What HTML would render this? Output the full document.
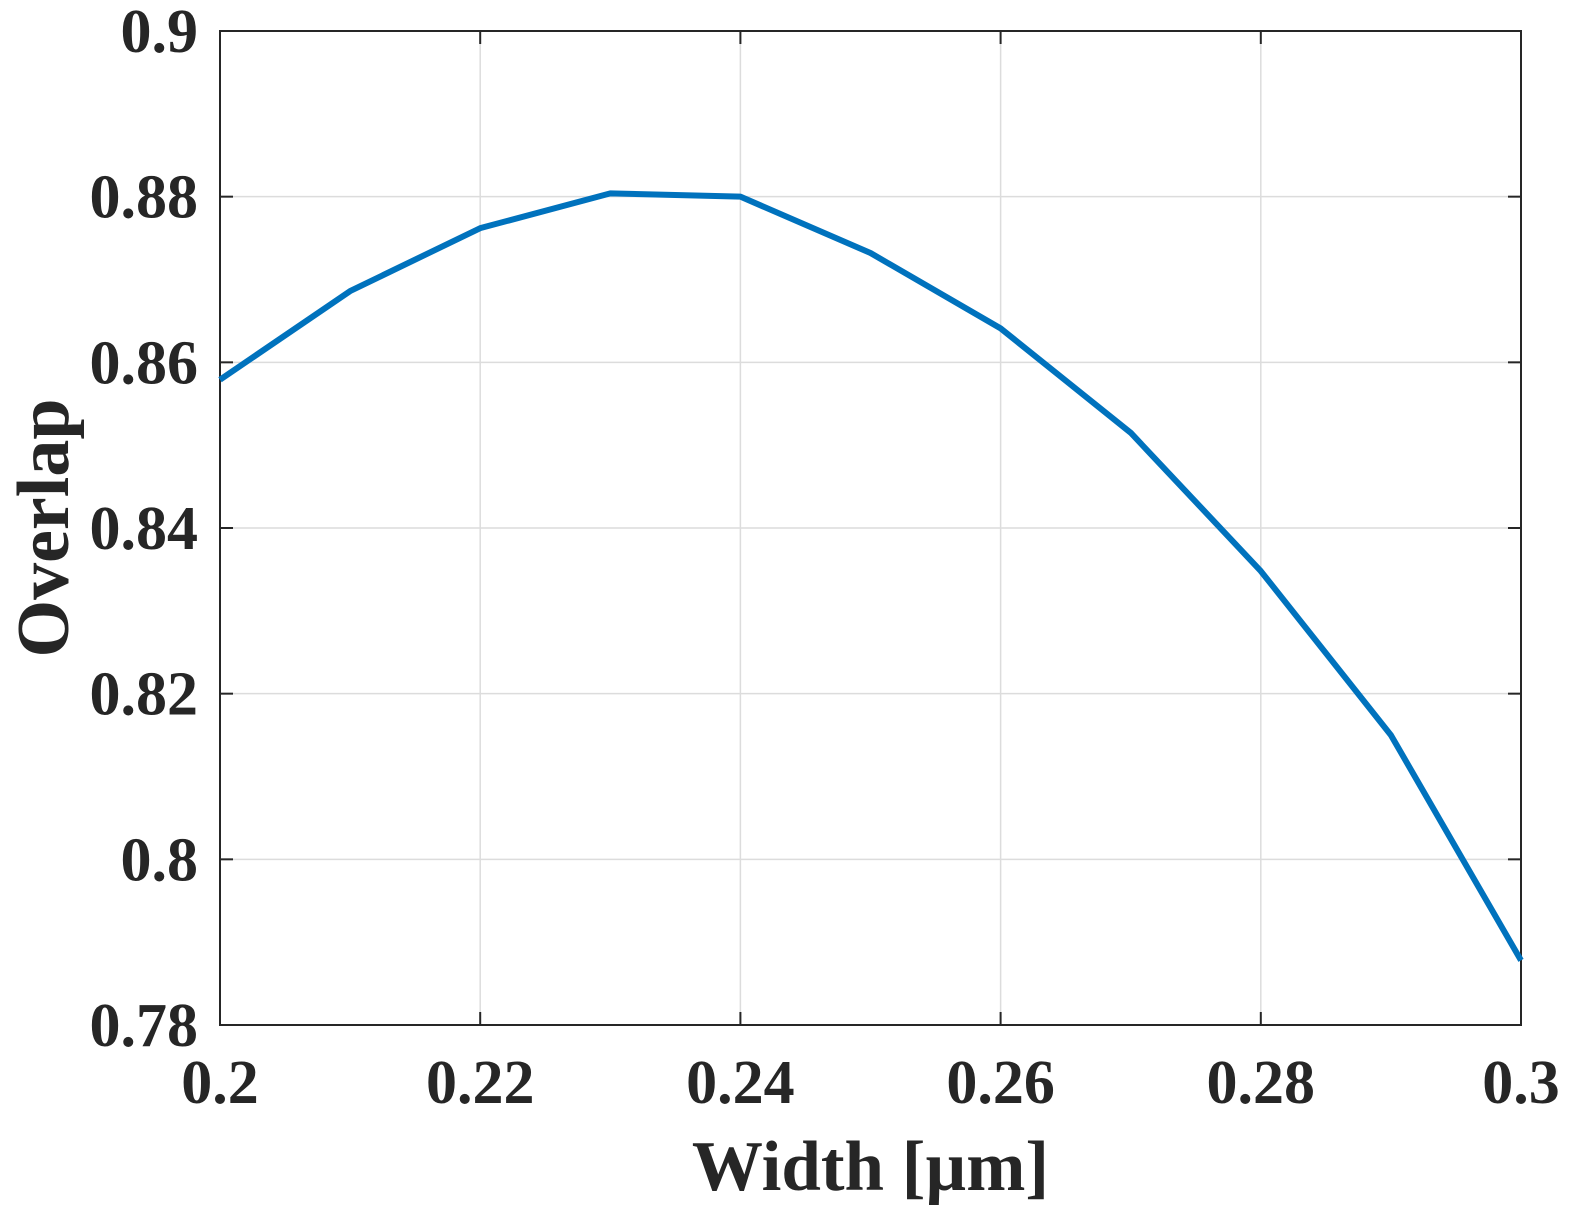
<!DOCTYPE html>
<html><head><meta charset="utf-8"><style>
html,body{margin:0;padding:0;background:#fff;}
svg{display:block;}
text{font-family:"Liberation Serif",serif;font-weight:bold;fill:#262626;}
</style></head><body>
<svg id="chart" width="1582" height="1225" viewBox="0 0 1582 1225" xmlns="http://www.w3.org/2000/svg"></svg>
<script>
const xValues = [0.20,0.21,0.22,0.23,0.24,0.25,0.26,0.27,0.28,0.29,0.30];
const overlapValues = [0.8579,0.8686,0.8762,0.8804,0.8800,0.8732,0.8641,0.8515,0.8348,0.8150,0.7878];
const xTicks = [0.2,0.22,0.24,0.26,0.28,0.3];
const xTickLabels = ["0.2","0.22","0.24","0.26","0.28","0.3"];
const yTicks = [0.78,0.8,0.82,0.84,0.86,0.88,0.9];
const yTickLabels = ["0.78","0.8","0.82","0.84","0.86","0.88","0.9"];

const L=220,R=1521,T=31,B=1025;
const xMin=0.2,xMax=0.3,yMin=0.78,yMax=0.9;
const sx=v=>L+(v-xMin)/(xMax-xMin)*(R-L);
const sy=v=>B-(v-yMin)/(yMax-yMin)*(B-T);
const svg=document.getElementById('chart');
const NS='http://www.w3.org/2000/svg';
function mk(tag,attrs,parent){const e=document.createElementNS(NS,tag);for(const k in attrs)e.setAttribute(k,attrs[k]);(parent||svg).appendChild(e);return e;}

const grid=mk('g',{});


xTicks.forEach((t,i)=>{
  if(i>0&&i<xTicks.length-1){const l=mk('line',{x1:sx(t),x2:sx(t),y1:T,y2:B,stroke:'#dcdcdc','stroke-width':1.5},grid);
  
  }
});
yTicks.forEach((t,i)=>{
  if(i>0&&i<yTicks.length-1){const l=mk('line',{x1:L,x2:R,y1:sy(t),y2:sy(t),stroke:'#dcdcdc','stroke-width':1.5},grid);
  
  }
});

const frame=mk('rect',{x:L,y:T,width:R-L,height:B-T,fill:'none',stroke:'#262626','stroke-width':2});



xTicks.forEach((t,i)=>{
  const x=sx(t);
  mk('line',{x1:x,x2:x,y1:B,y2:B-13,stroke:'#262626','stroke-width':2});
  mk('line',{x1:x,x2:x,y1:T,y2:T+13,stroke:'#262626','stroke-width':2});
  const tx=mk('text',{x:x,y:B+78,'font-size':62,'text-anchor':'middle'});
  tx.textContent=xTickLabels[i];
  
  
});
yTicks.forEach((t,i)=>{
  const y=sy(t);
  mk('line',{x1:L,x2:L+13,y1:y,y2:y,stroke:'#262626','stroke-width':2});
  mk('line',{x1:R,x2:R-13,y1:y,y2:y,stroke:'#262626','stroke-width':2});
  const tx=mk('text',{x:L-22,y:y+21,'font-size':62,'text-anchor':'end'});
  tx.textContent=yTickLabels[i];
  
  
});

const pts=xValues.map((v,i)=>sx(v)+','+sy(overlapValues[i])).join(' ');
const line=mk('polyline',{points:pts,fill:'none',stroke:'#0072BD','stroke-width':6,'stroke-linejoin':'round'});



const xt=mk('text',{x:(L+R)/2,y:1190,'font-size':71,'text-anchor':'middle'});
xt.textContent='Width [\u00b5m]';


const yt=mk('text',{x:0,y:0,'font-size':74,'text-anchor':'middle',transform:'translate(68,'+((T+B)/2)+') rotate(-90)'});
yt.textContent='Overlap';


</script>
</body></html>
